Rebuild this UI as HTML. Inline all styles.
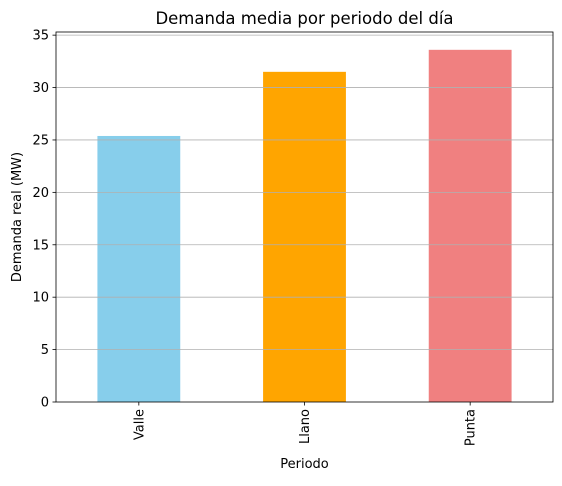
<!DOCTYPE html>
<html><head><meta charset="utf-8"><style>
body{margin:0;background:#fff;}
svg text{font-family:"DejaVu Sans","Liberation Sans",sans-serif;fill:#000;}
</style></head><body>
<svg id="chart" width="562" height="481" xmlns="http://www.w3.org/2000/svg">
<rect width="562" height="481" fill="#fff"/>
<g id="bars"></g>
<g id="grid"></g>
<g id="axes"></g>
<text x="304.5" y="24" font-size="16.5" text-anchor="middle">Demanda media por periodo del día</text>
<text x="304.5" y="468" font-size="13" text-anchor="middle">Periodo</text>
<text transform="translate(21,217) rotate(-90)" font-size="13" text-anchor="middle">Demanda real (MW)</text>
</svg>
<script>
const categories=["Valle","Llano","Punta"];
const values=[25.38,31.5,33.6];
const colors=["#87CEEB","#FFA500","#F08080"];
const yTicks=[0,5,10,15,20,25,30,35];
const L=56,R=553,T=32,B=402,yMax=35.3;
const NS="http://www.w3.org/2000/svg";
function y(v){return B-(v/yMax)*(B-T);}
function x(i){return L+(i+0.5)/categories.length*(R-L);}
const bw=(R-L)/categories.length*0.5;
function mk(tag,attrs,parent){const e=document.createElementNS(NS,tag);for(const k in attrs)e.setAttribute(k,attrs[k]);document.getElementById(parent).appendChild(e);return e;}
values.forEach((v,i)=>{
 const r=mk('rect',{x:x(i)-bw/2,y:y(v),width:bw,height:B-y(v),fill:colors[i]},'bars');
 
 
});
yTicks.forEach(t=>{
 if(t>0){const g=mk('line',{x1:L,x2:R,y1:y(t),y2:y(t),stroke:'#b0b0b0','stroke-width':0.8},'grid');
 
 }
 const tk=mk('line',{x1:L-3.5,x2:L,y1:y(t),y2:y(t),stroke:'#000','stroke-width':0.8},'axes');
 
 
 const tx=mk('text',{x:L-7,y:y(t)+4.5,'font-size':13,'text-anchor':'end'},'axes');
 tx.textContent=t;
 
 
});
categories.forEach((c,i)=>{
 const tk=mk('line',{x1:x(i),x2:x(i),y1:B,y2:B+3.5,stroke:'#000','stroke-width':0.8},'axes');
 
 
 const tx=mk('text',{transform:`translate(${x(i)+4.5},${B+7}) rotate(-90)`,'font-size':13,'text-anchor':'end'},'axes');
 tx.textContent=c;
 
 
});
const fr=mk('rect',{x:L,y:T,width:R-L,height:B-T,fill:'none',stroke:'#000','stroke-width':0.8},'axes');


</script>
</body></html>
